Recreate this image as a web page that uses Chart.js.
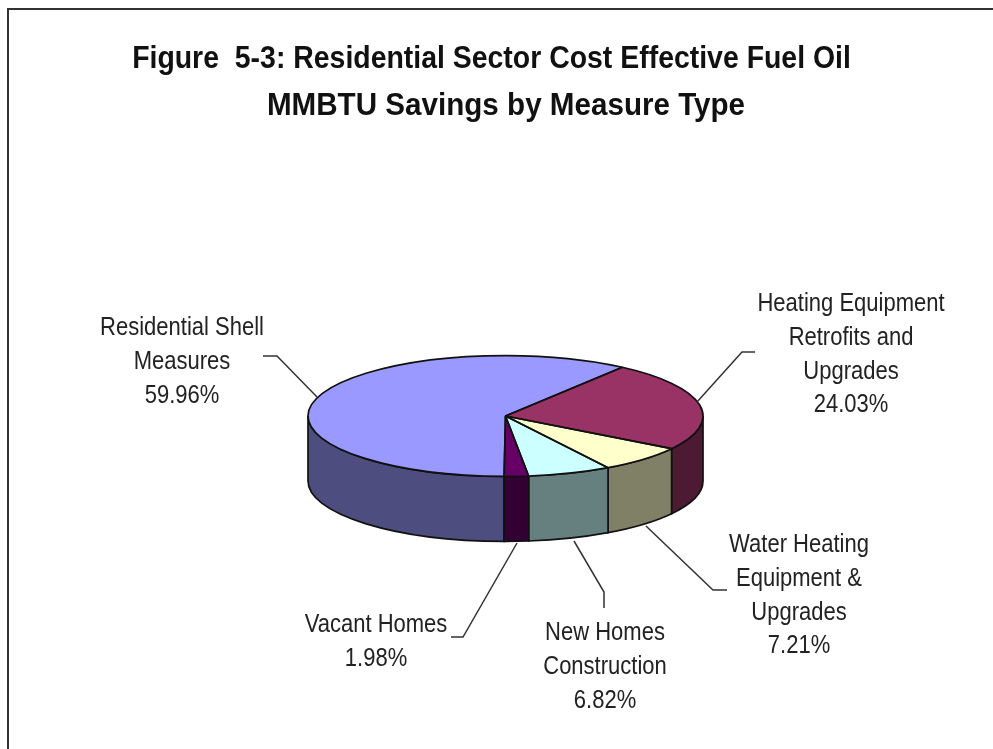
<!DOCTYPE html>
<html>
<head>
<meta charset="utf-8">
<title>Figure 5-3</title>
<style>
    html, body { margin: 0; padding: 0; background: #fff; overflow: hidden; }
    #frame { position: absolute; left: 7px; top: 8px; width: 986px; height: 741px; border-left: 2px solid #333; border-top: 2px solid #333; box-sizing: border-box; }
    #grafico { position: absolute; left: 0; top: 0; }
</style>
<script src="https://cdn.jsdelivr.net/npm/chart.js@4/dist/chart.umd.min.js"></script>
</head>
<body>
<div id="frame"></div>
<canvas id="grafico" width="993" height="749"></canvas>
<script>
// data
const titleLines = ['Figure  5-3: Residential Sector Cost Effective Fuel Oil', 'MMBTU Savings by Measure Type'];
const categories = ['Residential Shell Measures', 'Heating Equipment Retrofits and Upgrades', 'Water Heating Equipment & Upgrades', 'New Homes Construction', 'Vacant Homes'];
const categoryLines = [
    ['Residential Shell', 'Measures'],
    ['Heating Equipment', 'Retrofits and', 'Upgrades'],
    ['Water Heating', 'Equipment &', 'Upgrades'],
    ['New Homes', 'Construction'],
    ['Vacant Homes']
];
const values = [59.96, 24.03, 7.21, 6.82, 1.98];

// colours
const topColors = ['#9999ff', '#993366', '#ffffcc', '#ccffff', '#660066'];
const sideColors = ['#4d4d80', '#4d1a33', '#808066', '#668080', '#330033'];

// pie placement on the page
const pieX = 505.5;
const pieY = 416;
const pieRadius = 197.5;
const squash = 0.306;
const depth = 65;
const firstSliceDeg = 180.4;

// title placement, one entry per line
const titleSpots = [
    { x: 491.5, y: 68, xScale: 0.917 },
    { x: 506, y: 115, xScale: 0.955 }
];

// label placement: centre x, first baseline y, and the leader line
const labelSpots = [
    { x: 182, y: 335, leader: [[263, 356], [277, 356], [317, 397]] },
    { x: 851, y: 311, leader: [[755, 352], [742, 352], [697, 402]] },
    { x: 799, y: 552, leader: [[727, 590], [713, 590], [646, 526]] },
    { x: 605, y: 640, leader: [[604, 608], [604, 592], [574, 541]] },
    { x: 376, y: 632, leader: [[451, 637], [463, 637], [517, 543]] }
];
const lineStep = 33.8;

function wallPath(ctx, start, end) {
    ctx.beginPath();
    ctx.ellipse(pieX, pieY, pieRadius, pieRadius * squash, 0, start, end);
    ctx.lineTo(pieX + Math.cos(end) * pieRadius, pieY + Math.sin(end) * pieRadius * squash + depth);
    ctx.ellipse(pieX, pieY + depth, pieRadius, pieRadius * squash, 0, end, start, true);
    ctx.closePath();
}

// the text in the picture is narrower than the installed fonts
function narrowText(ctx, text, x, y, xScale) {
    ctx.save();
    ctx.translate(x, y);
    ctx.scale(xScale, 1);
    ctx.fillText(text, 0, 0);
    ctx.restore();
}

const pie3d = {
    id: 'pie3d',
    beforeDatasetsDraw(chart) {
        const ctx = chart.ctx;
        const arcs = chart.getDatasetMeta(0).data;
        ctx.save();
        ctx.strokeStyle = '#111';
        ctx.lineWidth = 1.7;
        arcs.forEach((arc, i) => {
            [0, Math.PI * 2, -Math.PI * 2].forEach(shift => {
                const s = Math.max(arc.startAngle + shift, 0);
                const e = Math.min(arc.endAngle + shift, Math.PI);
                if (e > s) {
                    wallPath(ctx, s, e);
                    ctx.fillStyle = sideColors[i];
                    ctx.fill();
                    ctx.stroke();
                }
            });
        });
        ctx.restore();

        // squash the library's round pie into the tilted top
        const first = arcs[0];
        ctx.save();
        ctx.translate(pieX, pieY);
        ctx.scale(1, squash);
        ctx.translate(-first.x, -first.y);
    },
    afterDatasetsDraw(chart) {
        const ctx = chart.ctx;
        ctx.restore();
        ctx.save();
        ctx.strokeStyle = '#111';
        ctx.lineWidth = 1.7;
        ctx.lineJoin = 'bevel';
        chart.getDatasetMeta(0).data.forEach(arc => {
            ctx.beginPath();
            ctx.moveTo(pieX, pieY);
            ctx.ellipse(pieX, pieY, pieRadius, pieRadius * squash, 0, arc.startAngle, arc.endAngle);
            ctx.closePath();
            ctx.stroke();
        });
        ctx.restore();
    },
    afterDraw(chart) {
        const ctx = chart.ctx;
        ctx.save();
        ctx.textAlign = 'center';
        ctx.textBaseline = 'alphabetic';

        ctx.fillStyle = '#111';
        ctx.font = 'bold 31px "Liberation Sans"';
        titleLines.forEach((line, n) => narrowText(ctx, line, titleSpots[n].x, titleSpots[n].y, titleSpots[n].xScale));

        ctx.strokeStyle = '#333';
        ctx.lineWidth = 1.5;
        ctx.fillStyle = '#222';
        ctx.font = '25px "Liberation Sans"';
        labelSpots.forEach((spot, i) => {
            ctx.beginPath();
            spot.leader.forEach((p, n) => n ? ctx.lineTo(p[0], p[1]) : ctx.moveTo(p[0], p[1]));
            ctx.stroke();
            const lines = categoryLines[i].concat(values[i].toFixed(2) + '%');
            lines.forEach((line, n) => narrowText(ctx, line, spot.x, spot.y + n * lineStep, 0.88));
        });
        ctx.restore();
    }
};

new Chart(document.getElementById('grafico').getContext('2d'), {
    type: 'pie',
    data: {
        labels: categories,
        datasets: [{
            data: values,
            backgroundColor: topColors,
            borderWidth: 0
        }]
    },
    options: {
        responsive: false,
        animation: false,
        rotation: firstSliceDeg,
        radius: pieRadius,
        plugins: {
            legend: { display: false },
            tooltip: { enabled: false }
        }
    },
    plugins: [pie3d]
});
</script>
</body>
</html>
